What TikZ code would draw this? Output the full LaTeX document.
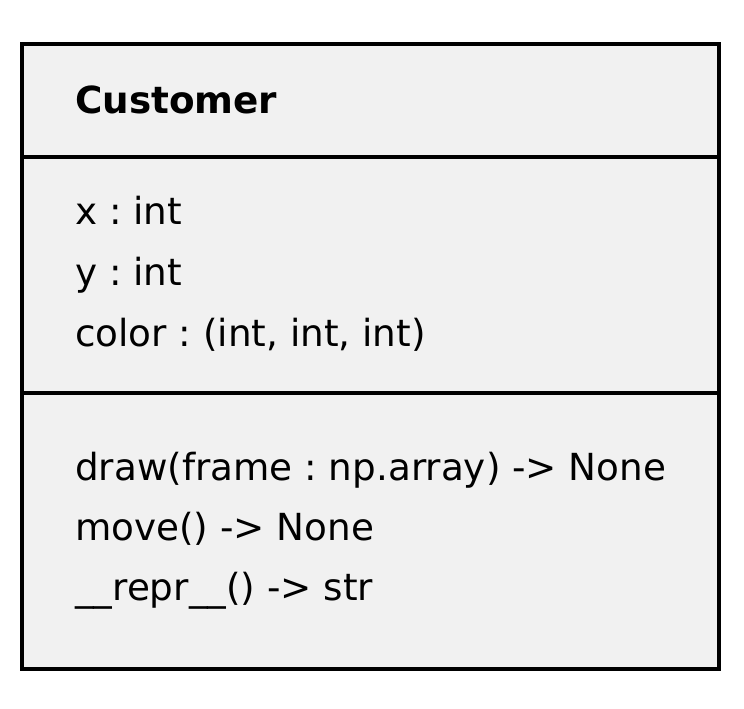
\documentclass[tikz,border=0pt]{standalone}
\usepackage{fontspec}
\setmainfont{DejaVu Sans}
\usepackage{xcolor}
\definecolor{boxgray}{HTML}{F1F1F1}
\frenchspacing

\begin{document}
\begin{tikzpicture}[x=1pt, y=-1pt]

		% === figure/box bounds ===
		\def\xmin{22}	\def\xmax{719}
		\def\ymin{44}	\def\ymax{669}
		\def\ysepa{157}	\def\ysepb{393}
		\def\xtext{75}

		\useasboundingbox (0,0) rectangle (744,709);

		% === Box ===
		\draw[line width=4.4pt, fill=boxgray] (\xmin,\ymin) rectangle (\xmax,\ymax);
		\draw[line width=3.4pt] (\xmin,\ysepa) -- (\xmax,\ysepa);	% name / attributes
		\draw[line width=3.4pt] (\xmin,\ysepb) -- (\xmax,\ysepb);	% attributes / methods

		% === Class name ===
		\node[anchor=base west, inner sep=0pt, font=\fontsize{37.3}{44}\selectfont\bfseries] (name) at (\xtext,113) {Customer};

		% === Attributes ===
		\foreach \y/\txt [count=\i] in {224/{x : int}, 285/{y : int}, 346/{color : (int, int, int)}} {
			\node[anchor=base west, inner sep=0pt, font=\fontsize{37.3}{44}\selectfont] (attr\i) at (\xtext,\y) {\txt};
		}

		% === Methods ===
		\foreach \y/\txt [count=\i] in {480/{draw(frame : np.array) -> None}, 540/{move() -> None}, 600/{\_\_repr\_\_() -> str}} {
			\node[anchor=base west, inner sep=0pt, font=\fontsize{37.3}{44}\selectfont] (meth\i) at (\xtext,\y) {\txt};
		}
	\end{tikzpicture}
\end{document}
